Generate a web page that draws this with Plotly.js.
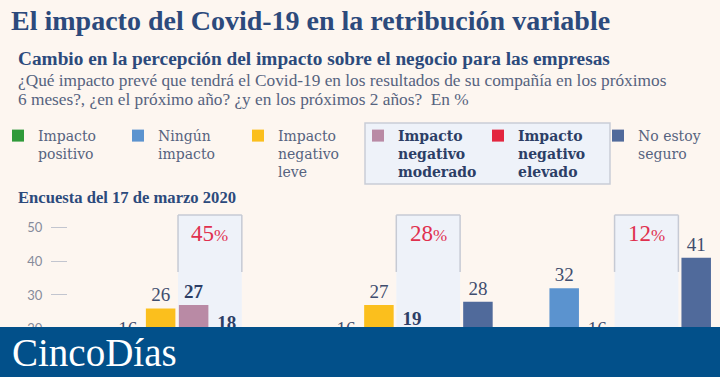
<!DOCTYPE html>
<html><head><meta charset="utf-8">
<script src="https://cdn.plot.ly/plotly-3.0.1.min.js"></script>
<style>html,body{margin:0;padding:0;background:#fdf6f0;} #chart{width:720px;height:377px;}</style>
</head><body><div id="chart"></div>
<script>
// ---- data ----
const periods = ['Próximos 6 meses', 'Próximo año', 'Próximos 2 años'];
const seriesNames = ['Impacto<br>positivo', 'Ningún<br>impacto', 'Impacto<br>negativo<br>leve',
  'Impacto<br>negativo<br>moderado', 'Impacto<br>negativo<br>elevado', 'No estoy<br>seguro'];
const positivo = [5, 1, 0];
const ninguno  = [16, 16, 32];
const leve     = [26, 27, 16];
const moderado = [27, 19, 8];
const elevado  = [18, 9, 4];
const noSeguro = [8, 28, 41];
const yTicks = [20, 30, 40, 50];
const titleText = 'El impacto del Covid-19 en la retribución variable';
const subtitleText = 'Cambio en la percepción del impacto sobre el negocio para las empresas';
const questionLine1 = '¿Qué impacto prevé que tendrá el Covid-19 en los resultados de su compañía en los próximos';
const questionLine2 = '6 meses?, ¿en el próximo año? ¿y en los próximos 2 años?  En %';
const surveyLabel = 'Encuesta del 17 de marzo 2020';
const brand = 'CincoDías';

// ---- styling / layout ----
const W = 720, H = 377, L = 68, T = 207, PW = W - L, PH = H - T;
const px = x => (x - L) / PW;
const py = y => (H - y) / PH;
const colors = ['#2f9a3a', '#5b93cf', '#fbbf1d', '#b98aa5', '#e3263f', '#506a9b'];
const values = [positivo, ninguno, leve, moderado, elevado, noSeguro];
const bargap = 0.0928, bargroupgap = 0.106;
const serif = 'Liberation Serif, Times New Roman, serif';

const traces = values.map((v, i) => {
  const hl = (i === 3 || i === 4);
  let name = seriesNames[i];
  if (hl) name = '<span style="color:#2c3e66">' + name.split('<br>').map(s => '<b>' + s + '</b>').join('<br>') + '</span>';
  return {
    type: 'bar', x: periods, y: v, name: name,
    marker: {color: colors[i], line: {width: 0}},
    texttemplate: '%{y}', textposition: 'outside', constraintext: 'none',
    textfont: {family: serif, size: 19, color: hl ? '#2c3e66' : '#3f4d6e', weight: hl ? 700 : 400},
    hoverinfo: 'skip'
  };
});

const slot = (1 - bargap) / 6;
const bx0 = slot * bargroupgap / 2 - 0.004;
const bx1 = 2 * slot - slot * bargroupgap / 2 + 0.002;
const boxTop = 53.6, boxLineBottom = 36.8;
const shapes = [], annotations = [];
const totals = moderado.map((m, i) => m + elevado[i]);
periods.forEach((p, k) => {
  shapes.push({type: 'rect', xref: 'x', yref: 'y', x0: k + bx0, x1: k + bx1, y0: 0, y1: boxTop,
    fillcolor: '#eef2f9', line: {width: 0}, layer: 'below'});
  const ln = {color: '#c6cad4', width: 1.5};
  shapes.push({type: 'line', xref: 'x', yref: 'y', x0: k + bx0, x1: k + bx0, y0: boxLineBottom, y1: boxTop, line: ln, layer: 'below'});
  shapes.push({type: 'line', xref: 'x', yref: 'y', x0: k + bx1, x1: k + bx1, y0: boxLineBottom, y1: boxTop, line: ln, layer: 'below'});
  shapes.push({type: 'line', xref: 'x', yref: 'y', x0: k + bx0, x1: k + bx1, y0: boxTop, y1: boxTop, line: ln, layer: 'below'});
  annotations.push({xref: 'x', yref: 'y', x: k + (bx0 + bx1) / 2, y: 48.3, showarrow: false,
    text: totals[k] + '<span style="font-size:17px">%</span>',
    font: {family: serif, size: 23, color: '#e0304e'}, xanchor: 'center', yanchor: 'middle'});
});
// legend highlight box
shapes.push({type: 'rect', xref: 'paper', yref: 'paper', x0: px(365), x1: px(610), y0: py(184), y1: py(123),
  fillcolor: '#eef2f9', line: {color: '#c9cdd6', width: 1.5}, layer: 'below'});
// brand banner
shapes.push({type: 'rect', xref: 'paper', yref: 'paper', x0: px(0), x1: px(W), y0: py(H), y1: py(327),
  fillcolor: '#02508a', line: {width: 0}, layer: 'above'});

const textAnn = (text, x, y, font) => ({xref: 'paper', yref: 'paper', x: px(x), y: py(y), text: text,
  showarrow: false, xanchor: 'left', yanchor: 'middle', font: font});
annotations.push(textAnn(subtitleText, 16, 58, {family: serif, size: 19.3, color: '#2c4a7c', weight: 700}));
annotations.push(textAnn(questionLine1, 16, 80, {family: serif, size: 17.3, color: '#56637f'}));
annotations.push(textAnn(questionLine2, 16, 99, {family: serif, size: 17.3, color: '#56637f'}));
annotations.push(textAnn(surveyLabel, 16, 197, {family: serif, size: 16.6, color: '#2c4a7c', weight: 700}));
annotations.push(textAnn(brand, 10, 352, {family: serif, size: 39, color: '#ffffff'}));

const layout = {
  width: W, height: H,
  margin: {l: L, r: 0, t: T, b: 0, autoexpand: false},
  paper_bgcolor: '#fdf6f0', plot_bgcolor: 'rgba(0,0,0,0)',
  title: {text: titleText, x: 11 / W, xref: 'container', xanchor: 'left', y: 1 - 20 / H, yref: 'container', yanchor: 'middle',
    font: {family: serif, size: 28, color: '#2c4a7c', weight: 700}},
  barmode: 'group', bargap: bargap, bargroupgap: bargroupgap,
  xaxis: {type: 'category', range: [-0.5, 2.487], showticklabels: false, ticks: '', showline: false, showgrid: false, zeroline: false, fixedrange: true},
  yaxis: {range: [5.74, 56], tickvals: yTicks, ticks: 'outside', ticklen: 16, tickcolor: '#c2c5cf', tickwidth: 1,
    ticklabelstandoff: 6, showgrid: false, zeroline: false, showline: false, automargin: false, fixedrange: true,
    tickfont: {family: 'Lato, sans-serif', size: 13, color: '#868b9b'}},
  showlegend: true,
  legend: {orientation: 'h', x: px(-2), xanchor: 'left', y: py(120), yanchor: 'top', valign: 'top',
    entrywidth: 75, entrywidthmode: 'pixels', traceorder: 'normal', bgcolor: 'rgba(0,0,0,0)',
    font: {family: 'DejaVu Serif, serif', size: 14, color: '#56637f'}, itemclick: false, itemdoubleclick: false},
  shapes: shapes, annotations: annotations
};
Plotly.newPlot('chart', traces, layout, {displayModeBar: false, staticPlot: true});
</script></body></html>
